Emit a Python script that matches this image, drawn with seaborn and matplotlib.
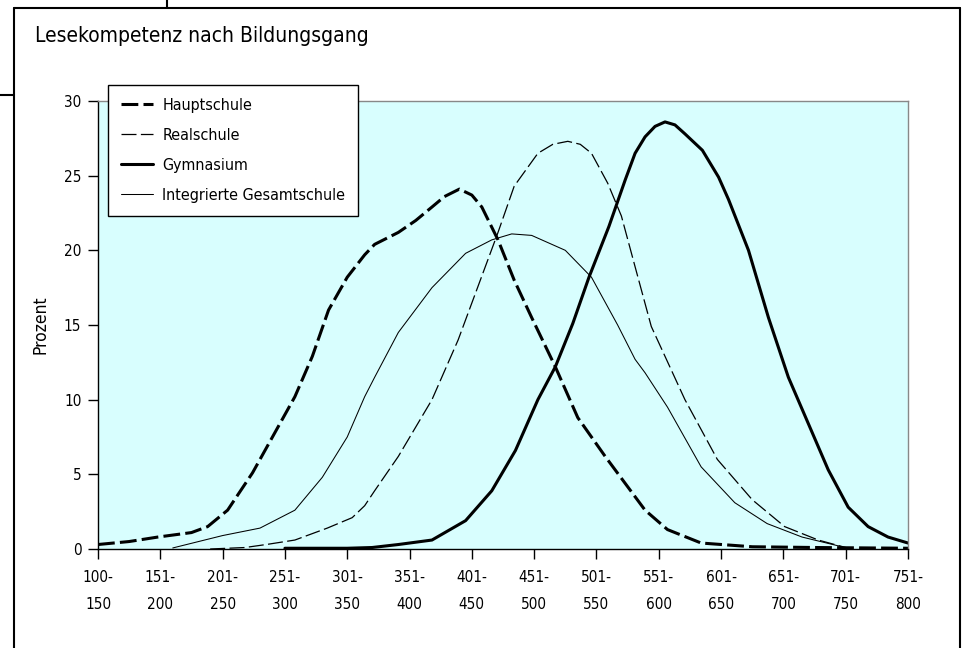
import pandas as pd
import matplotlib.pyplot as plt
import seaborn as sns
from matplotlib.lines import Line2D

# score bands on the x axis (tick at lower bound of each band)
band_starts = [100, 150, 200, 250, 300, 350, 400, 450, 500, 550, 600, 650, 700, 750]
band_labels = ["100-\n150", "151-\n200", "201-\n250", "251-\n300", "301-\n350", "351-\n400",
               "401-\n450", "451-\n500", "501-\n550", "551-\n600", "601-\n650", "651-\n700",
               "701-\n750", "751-\n800"]
y_ticks = [0, 5, 10, 15, 20, 25, 30]

# Prozent je Bildungsgang
haupt_x = [100, 125, 148, 175, 188, 204, 224, 242, 258, 272, 285, 300, 314, 322, 341, 355, 368,
           378, 390, 400, 408, 421, 434, 448, 467, 485, 507, 539, 557, 584, 625, 675, 750]
haupt_y = [0.3, 0.5, 0.8, 1.1, 1.5, 2.6, 5.1, 7.8, 10.2, 12.9, 16.0, 18.2, 19.7, 20.4, 21.2, 22.0,
           22.9, 23.6, 24.1, 23.7, 22.9, 20.7, 18.0, 15.5, 12.2, 8.8, 6.2, 2.6, 1.3, 0.4, 0.15, 0.1, 0.05]

real_x = [190, 218, 235, 258, 284, 304, 314, 322, 341, 368, 389, 405, 421, 434, 453, 465, 477,
          487, 496, 509, 520, 531, 544, 571, 597, 625, 651, 678, 700]
real_y = [0.0, 0.1, 0.3, 0.6, 1.4, 2.1, 2.9, 3.9, 6.2, 10.0, 14.0, 17.6, 21.2, 24.3, 26.5, 27.1,
          27.3, 27.1, 26.5, 24.5, 22.3, 18.9, 14.9, 10.0, 6.0, 3.3, 1.5, 0.6, 0.1]

gym_x = [250, 300, 320, 341, 368, 395, 416, 435, 453, 467, 481, 494, 510, 523, 531, 539, 547,
         555, 563, 571, 585, 598, 606, 622, 638, 654, 670, 686, 702, 718, 734, 750]
gym_y = [0.05, 0.05, 0.1, 0.3, 0.6, 1.9, 3.9, 6.6, 10.0, 12.2, 15.1, 18.2, 21.6, 24.7, 26.5, 27.6,
         28.3, 28.6, 28.4, 27.8, 26.7, 24.9, 23.4, 20.0, 15.5, 11.5, 8.4, 5.3, 2.8, 1.5, 0.8, 0.4]

ges_x = [160, 200, 230, 258, 280, 300, 314, 322, 341, 368, 395, 416, 432, 448, 475, 496, 517,
         531, 539, 557, 584, 611, 637, 665, 697, 700]
ges_y = [0.07, 0.9, 1.4, 2.6, 4.8, 7.5, 10.2, 11.5, 14.5, 17.5, 19.8, 20.7, 21.1, 21.0, 20.0, 18.2,
         15.0, 12.7, 11.8, 9.5, 5.5, 3.1, 1.7, 0.8, 0.15, 0.0]

sns.set_theme(style="ticks")
plt.rcParams['font.family'] = ['DejaVu Sans Condensed', 'DejaVu Sans']
plt.rcParams['font.stretch'] = 'condensed'
plt.rcParams['text.color'] = 'black'
plt.rcParams['xtick.color'] = 'black'
plt.rcParams['ytick.color'] = 'black'
plt.rcParams['axes.labelcolor'] = 'black'

fig = plt.figure(figsize=(9.63, 6.48), dpi=100)
ax = fig.add_axes([98 / 963, 1 - 549 / 648, 810 / 963, 448 / 648])
ax.set_facecolor('#d8fefe')

sns.lineplot(x=haupt_x, y=haupt_y, ax=ax, color='black', lw=2.2, linestyle=(0, (5.5, 1.7)),
             estimator=None, label='Hauptschule')
sns.lineplot(x=real_x, y=real_y, ax=ax, color='black', lw=0.9, linestyle=(0, (12, 3.5)),
             estimator=None, label='Realschule')
sns.lineplot(x=gym_x, y=gym_y, ax=ax, color='black', lw=2.2, estimator=None, label='Gymnasium')
sns.lineplot(x=ges_x, y=ges_y, ax=ax, color='black', lw=0.75, estimator=None,
             label='Integrierte Gesamtschule')

ax.set_xlim(100, 750)
ax.set_ylim(0, 30)
ax.set_xticks(band_starts)
ax.set_xticklabels(band_labels, fontsize=11, linespacing=2.05)
ax.set_yticks(y_ticks)
ax.set_yticklabels([str(v) for v in y_ticks], fontsize=11)
ax.tick_params(axis='both', direction='out', length=7, width=1, color='black', pad=5)
ax.tick_params(axis='x', pad=8)
ax.set_xlabel('')
ax.set_ylabel('Prozent', fontsize=12.5)
ax.yaxis.set_label_coords(-0.06, 0.5)

for s in ['left', 'bottom']:
    ax.spines[s].set_color('black')
    ax.spines[s].set_linewidth(1.0)
for s in ['top', 'right']:
    ax.spines[s].set_visible(True)
    ax.spines[s].set_color('#888888')
    ax.spines[s].set_linewidth(1.0)

leg = ax.legend(loc='upper left', bbox_to_anchor=(108 / 963, 1 - 85 / 648),
                bbox_transform=fig.transFigure, borderaxespad=0, fontsize=11.5,
                frameon=True, fancybox=False, framealpha=1, edgecolor='black',
                handlelength=2.0, handletextpad=0.6, labelspacing=0.94, borderpad=0.8)
leg.get_frame().set_linewidth(1.0)

fig.text(35 / 963, 1 - 42 / 648, 'Lesekompetenz nach Bildungsgang', fontsize=15,
         ha='left', va='baseline')

# Rahmen um die Grafik
frame_kw = dict(color='black', lw=1.5, transform=fig.transFigure)
fig.add_artist(Line2D([14 / 963, 960 / 963], [1 - 8 / 648, 1 - 8 / 648], **frame_kw))
fig.add_artist(Line2D([14 / 963, 14 / 963], [1 - 8 / 648, 0], **frame_kw))
fig.add_artist(Line2D([960 / 963, 960 / 963], [1 - 8 / 648, 0], **frame_kw))
fig.add_artist(Line2D([167 / 963, 167 / 963], [1, 1 - 8 / 648], **frame_kw))
fig.add_artist(Line2D([0, 14 / 963], [1 - 95 / 648, 1 - 95 / 648], **frame_kw))

fig.savefig('out.png', dpi=100)
